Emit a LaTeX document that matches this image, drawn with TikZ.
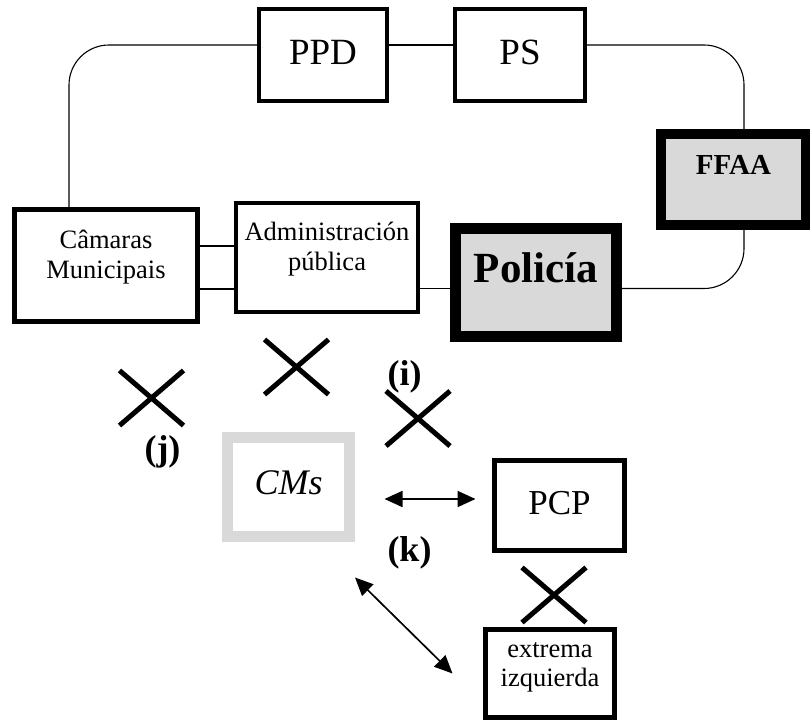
\documentclass[tikz,border=0pt]{standalone}
\usepackage{fontspec}
\setmainfont{Liberation Serif}
\usetikzlibrary{arrows.meta,shapes.misc}
\definecolor{shade}{HTML}{D9D9D9}

\begin{document}
\begin{tikzpicture}[x=1pt,y=-1pt,
  box/.style={draw,line width=#1,inner sep=0pt,align=center,
    font=\fontsize{26.5}{29.5}\selectfont},
  box/.default=4pt,
  force/.style={box=#1,fill=shade},
  force/.default=10pt,
  xmark/.style={cross out,draw,line width=5pt,minimum width=59pt,
    minimum height=50pt,inner sep=0pt},
  tag/.style={inner sep=0pt,font=\fontsize{36}{38}\selectfont\bfseries},
  link/.style={line width=1.1pt,rounded corners=40pt},
  both/.style={{Triangle[length=18pt,width=16pt]}-{Triangle[length=18pt,width=16pt]}}]
\useasboundingbox (0,0) rectangle (810,722);

% top row
\node[box,minimum width=128pt,minimum height=92pt,text depth=6pt,
  font=\fontsize{37}{40}\selectfont] (ppd) at (323,55) {PPD};
\node[box,minimum width=130pt,minimum height=92pt,text depth=6pt,
  font=\fontsize{37}{40}\selectfont] (ps) at (520,55) {PS};
\node[force,minimum width=145pt,minimum height=91pt,text depth=30pt,
  font=\fontsize{29}{30}\selectfont\bfseries] (ffaa) at (733.5,179.5) {FFAA};

% middle row
\node[box=5pt,minimum width=183pt,minimum height=112pt,text depth=22pt] (cam) at (106,265.5) {Câmaras\\Municipais};
\node[box,minimum width=182pt,minimum height=109pt,text depth=22pt] (adm) at (327,257.5) {Administración\\pública};
\node[force=11pt,minimum width=161pt,minimum height=108pt,text depth=30pt,
  font=\fontsize{43}{46}\selectfont\bfseries] (pol) at (536,282.5) {Policía};

% bottom
\node[box=11pt,draw=shade,minimum width=122pt,minimum height=99pt,text depth=9pt,
  font=\fontsize{36}{38}\selectfont\itshape] (cms) at (288.5,487) {CMs};
\node[box=5pt,minimum width=130pt,minimum height=90pt,text depth=5.5pt,
  font=\fontsize{35}{38}\selectfont] (pcp) at (559.5,505.5) {PCP};
\node[box=5pt,minimum width=129pt,minimum height=88pt,text depth=18pt] (ext) at (550,673.5) {extrema\\izquierda};

% the loop
\draw[link] ([xshift=-37pt]cam.north) |- ([yshift=10pt]ppd.west);
\draw[link] ([yshift=10pt]ppd.east) -- ([yshift=10pt]ps.west);
\draw[link] ([yshift=10pt]ps.east) -| ([xshift=10.5pt]ffaa.north);
\draw[link] ([xshift=10.5pt]ffaa.south) |- ([yshift=-6pt]pol.east);

\coordinate (c1) at ([yshift=19.5pt]cam.east);
\coordinate (c2) at ([yshift=-23.5pt]cam.east);
\coordinate (c3) at ([yshift=-31pt]adm.east);
\draw[line width=1.6pt] (c1) -- (c1 -| adm.west);
\draw[line width=1.6pt] (c2) -- (c2 -| adm.west);
\draw[line width=1.2pt] (c3) -- (c3 -| pol.west);

% crosses
\node[xmark] (xj) at (151.5,398) {};
\node[xmark] (xa) at (296.5,367) {};
\node[xmark] (xi) at (418,418.5) {};
\node[xmark] (xk) at (554,595) {};
\node[tag] (li) at (404.5,376.5) {(i)};
\node[tag] (lj) at (162.5,452) {(j)};
\node[tag] (lk) at (409.5,552.5) {(k)};

% arrows
\coordinate (h) at ([yshift=-12pt]cms.east);
\draw[both,line width=1.8pt,shorten <=29.5pt,shorten >=16.5pt] (h) -- (h -| pcp.west);
\draw[both,line width=1.7pt] ([yshift=-35.5pt]cms.south east) -- ([xshift=-30.5pt]ext.west);
\end{tikzpicture}
\end{document}
